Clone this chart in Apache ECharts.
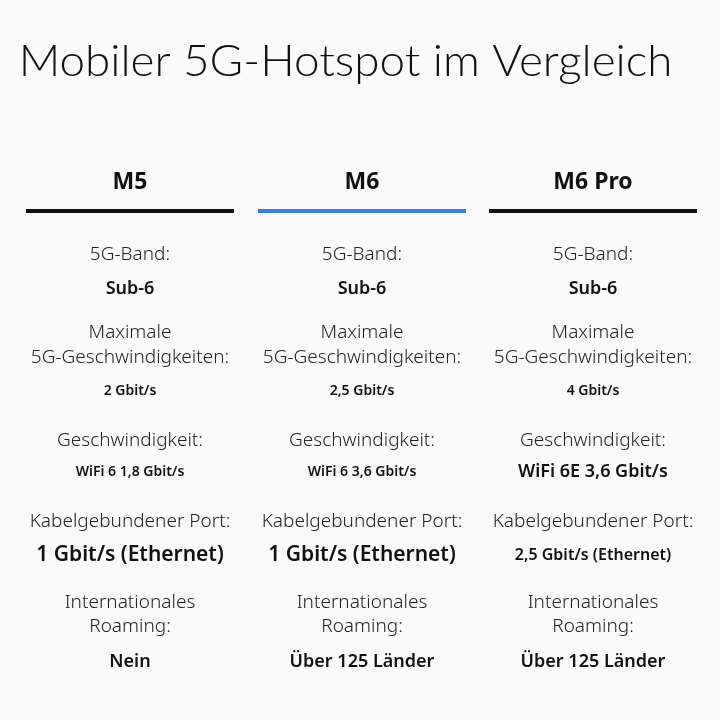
<!DOCTYPE html>
<html><head><meta charset="utf-8">
<script src="https://cdn.jsdelivr.net/npm/echarts@6/dist/echarts.min.js"></script>
<style>html,body{margin:0;padding:0;background:#fafafa}#c{width:720px;height:720px}</style>
</head><body><div id="c"></div>
<script>
const title = "Mobiler 5G-Hotspot im Vergleich";
const models = ["M5", "M6", "M6 Pro"];
const lineColors = ["#111111", "#3b7fd6", "#111111"];
const labels = [["5G-Band:"], ["Maximale", "5G-Geschwindigkeiten:"], ["Geschwindigkeit:"], ["Kabelgebundener Port:"], ["Internationales", "Roaming:"]];
const valuesM5 = ["Sub-6", "2 Gbit/s", "WiFi 6 1,8 Gbit/s", "1 Gbit/s (Ethernet)", "Nein"];
const valuesM6 = ["Sub-6", "2,5 Gbit/s", "WiFi 6 3,6 Gbit/s", "1 Gbit/s (Ethernet)", "Über 125 Länder"];
const valuesM6Pro = ["Sub-6", "4 Gbit/s", "WiFi 6E 3,6 Gbit/s", "2,5 Gbit/s (Ethernet)", "Über 125 Länder"];
const valueSizes = [[18,14,14,21,18],[18,14,14,21,18],[18,14,18,16,18]];

const columns = [valuesM5, valuesM6, valuesM6Pro];
const colX = [130, 362, 593];
const labelY = [[255], [333, 358], [441], [522], [603, 627]];
const valueY = [289, 391, 472, 555, 662];
const F = "'Noto Sans', 'Open Sans', sans-serif";
const g = [];
g.push({type:'text', x:360, y:62, style:{text:title, font:'300 44px Lato, sans-serif', fill:'#111', align:'center', verticalAlign:'middle'}, scaleX:1.04, originX:360});
columns.forEach((vals, c) => {
  const x = colX[c];
  g.push({type:'text', x:x, y:182, style:{text:models[c], font:'bold 23px '+F, fill:'#111', align:'center', verticalAlign:'middle'}});
  g.push({type:'rect', shape:{x:x-104, y:209, width:208, height:4}, style:{fill:lineColors[c]}});
  labels.forEach((lab, r) => {
    lab.forEach((t, k) => g.push({type:'text', x:x, y:labelY[r][k], style:{text:t, font:'300 19px '+F, fill:'#222', align:'center', verticalAlign:'middle'}}));
    g.push({type:'text', x:x, y:valueY[r], style:{text:vals[r], font:'600 '+valueSizes[c][r]+'px '+F, fill:'#111', align:'center', verticalAlign:'middle'}});
  });
});
const ch = echarts.init(document.getElementById('c'));
ch.setOption({backgroundColor:'#fafafa', graphic:g});
</script></body></html>
